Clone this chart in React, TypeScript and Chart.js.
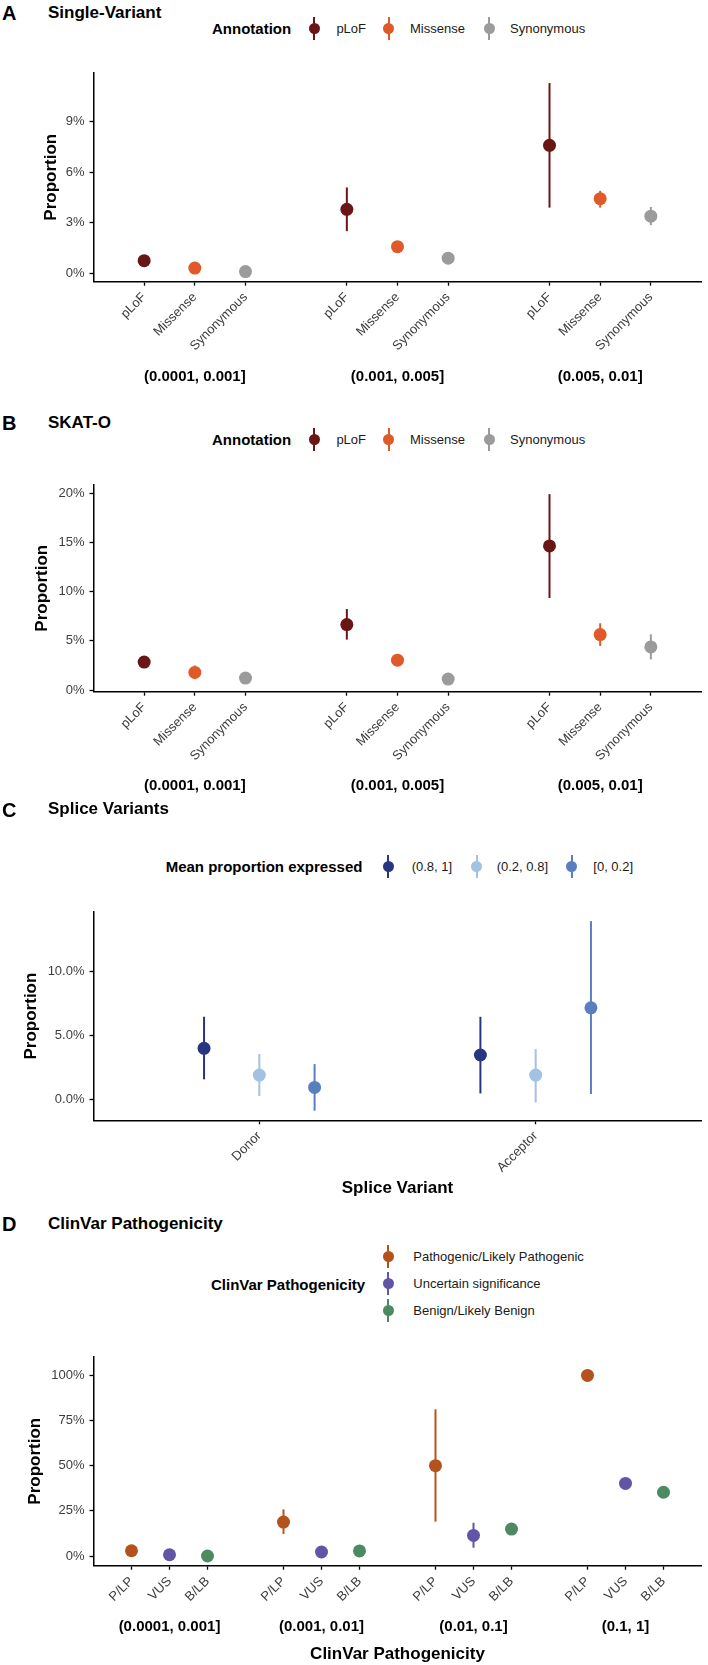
import React, { useEffect, useRef } from "react";
import { Chart, registerables } from "chart.js";

Chart.register(...registerables);

const FONT = '"Liberation Sans", Arial, Helvetica, sans-serif';

// ---------- Panels A & B: annotation classes ----------
const annotations = ["pLoF", "Missense", "Synonymous"];
const annotationColors = ["#6B1616", "#DF5A28", "#9B9B9B"];
const freqBinsAB = ["(0.0001, 0.001]", "(0.001, 0.005]", "(0.005, 0.01]"];

// Panel A: Single-Variant (proportion, %)
const svPLoF = [0.75, 3.8, 7.6];
const svPLoFLow = [0.55, 2.5, 3.9];
const svPLoFHigh = [0.95, 5.1, 11.3];
const svMissense = [0.31, 1.58, 4.43];
const svMissenseLow = [0.24, 1.4, 3.9];
const svMissenseHigh = [0.38, 1.76, 4.9];
const svSynonymous = [0.1, 0.9, 3.39];
const svSynonymousLow = [0.04, 0.75, 2.86];
const svSynonymousHigh = [0.16, 1.05, 3.94];
const svTicks = [0, 3, 6, 9];

// Panel B: SKAT-O (proportion, %)
const skPLoF = [2.84, 6.66, 14.66];
const skPLoFLow = [2.3, 5.13, 9.36];
const skPLoFHigh = [3.4, 8.24, 19.93];
const skMissense = [1.79, 3.04, 5.64];
const skMissenseLow = [1.1, 2.6, 4.49];
const skMissenseHigh = [2.5, 3.5, 6.79];
const skSynonymous = [1.22, 1.11, 4.39];
const skSynonymousLow = [0.9, 0.8, 3.11];
const skSynonymousHigh = [1.55, 1.45, 5.67];
const skTicks = [0, 5, 10, 15, 20];

// ---------- Panel C: splice variants ----------
const spliceTypes = ["Donor", "Acceptor"];
const expressedBins = ["(0.8, 1]", "(0.2, 0.8]", "[0, 0.2]"];
const expressedColors = ["#283583", "#A3C1E2", "#5A7FC0"];
const spHigh = [3.96, 3.44];
const spHighLow = [1.54, 0.44];
const spHighHigh = [6.43, 6.43];
const spMid = [1.875, 1.875];
const spMidLow = [0.23, -0.26];
const spMidHigh = [3.52, 3.9];
const spLow = [0.91, 7.13];
const spLowLow = [-0.91, 0.39];
const spLowHigh = [2.73, 13.9];
const spTicks = [0, 5, 10];

// ---------- Panel D: ClinVar ----------
const clinShort = ["P/LP", "VUS", "B/LB"];
const clinLong = ["Pathogenic/Likely Pathogenic", "Uncertain significance", "Benign/Likely Benign"];
const clinColors = ["#B4521D", "#6354A5", "#4C8B62"];
const freqBinsD = ["(0.0001, 0.001]", "(0.001, 0.01]", "(0.01, 0.1]", "(0.1, 1]"];
const cvPLP = [2.9, 18.8, 50, 100];
const cvPLPLow = [2.0, 12.2, 19, 100];
const cvPLPHigh = [3.8, 25.8, 81.2, 100];
const cvVUS = [0.7, 2.2, 11.4, 40.2];
const cvVUSLow = [0.3, 1.5, 4.6, 39.6];
const cvVUSHigh = [1.2, 3.0, 18.4, 40.8];
const cvBLB = [0.0, 2.8, 14.9, 35.3];
const cvBLBLow = [0.0, 2.0, 12.5, 34.7];
const cvBLBHigh = [0.5, 3.6, 17.5, 35.9];
const cvTicks = [0, 25, 50, 75, 100];

// ---------- helpers ----------
function groupedSeries(cats: string[], colors: string[], vals: number[][], lows: number[][], highs: number[][]) {
  const step = cats.length + 1;
  return cats.map((c, ci) => ({
    label: c,
    backgroundColor: colors[ci],
    data: vals[ci].map((v, g) => ({ x: 1 + step * g + ci, y: v, lo: lows[ci][g], hi: highs[ci][g] })),
  }));
}

function groupedTicks(cats: string[], nGroups: number) {
  const step = cats.length + 1;
  const out: { value: number; label: string }[] = [];
  for (let g = 0; g < nGroups; g++) cats.forEach((c, ci) => out.push({ value: 1 + step * g + ci, label: c }));
  return out;
}

function groupCenters(cats: string[], groups: string[]) {
  const step = cats.length + 1;
  return groups.map((t, g) => ({ text: t, at: 1 + step * g + (cats.length - 1) / 2 }));
}

const extrasPlugin = {
  id: "panelExtras",
  beforeDatasetsDraw(chart: any) {
    const ctx = chart.ctx;
    const xs = chart.scales.x;
    const ys = chart.scales.y;
    chart.data.datasets.forEach((ds: any) => {
      ctx.save();
      ctx.strokeStyle = ds.backgroundColor;
      ctx.lineWidth = 2;
      ds.data.forEach((p: any) => {
        if (p.lo == null) return;
        const px = xs.getPixelForValue(p.x);
        ctx.beginPath();
        ctx.moveTo(px, ys.getPixelForValue(p.lo));
        ctx.lineTo(px, ys.getPixelForValue(p.hi));
        ctx.stroke();
      });
      ctx.restore();
    });
  },
  afterDraw(chart: any, _a: any, opts: any) {
    const ctx = chart.ctx;
    const xs = chart.scales.x;
    const area = chart.chartArea;
    ctx.save();
    ctx.fillStyle = "#000";
    ctx.textAlign = "center";
    ctx.textBaseline = "middle";
    (opts.strips || []).forEach((s: any) => {
      ctx.font = `bold 15px ${FONT}`;
      ctx.fillText(s.text, xs.getPixelForValue(s.at), area.bottom + opts.stripOffset);
    });
    if (opts.xTitle) {
      ctx.font = `bold 17px ${FONT}`;
      ctx.fillText(opts.xTitle, (area.left + area.right) / 2, area.bottom + opts.xTitleOffset);
    }
    ctx.restore();
  },
};

type PanelProps = {
  top: number; // canvas top
  height: number;
  chartTop: number;
  chartBottom: number;
  titleCenter: number; // x of y-axis title center
  datasets: any[];
  xMin: number;
  xMax: number;
  xTicks: { value: number; label: string }[];
  yMin: number;
  yMax: number;
  yTicks: number[];
  yFmt: (v: number) => string;
  strips?: { text: string; at: number }[];
  stripOffset?: number;
  xTitle?: string;
  xTitleOffset?: number;
};

const AXIS_LEFT = 93.5;
const TICK_COLOR = "#3d3d3d";

function Panel(p: PanelProps) {
  const ref = useRef<HTMLCanvasElement | null>(null);
  useEffect(() => {
    if (!ref.current) return;
    const padTop = p.chartTop - p.top;
    const padLeft = p.titleCenter - 10.2;
    const xHeight = p.top + p.height - p.chartBottom;
    const labelMap = new Map(p.xTicks.map((t) => [t.value, t.label]));
    const chart = new Chart(ref.current, {
      type: "scatter",
      data: {
        datasets: p.datasets.map((d) => ({
          ...d,
          pointRadius: 6.5,
          pointHoverRadius: 6.5,
          borderWidth: 0,
          pointBorderWidth: 0,
          showLine: false,
        })),
      },
      plugins: [extrasPlugin],
      options: {
        animation: false,
        responsive: false,
        maintainAspectRatio: false,
        events: [],
        layout: { padding: { top: padTop, left: padLeft, right: 1, bottom: 0 } },
        plugins: {
          legend: { display: false },
          tooltip: { enabled: false },
          panelExtras: {
            strips: p.strips || [],
            stripOffset: p.stripOffset || 0,
            xTitle: p.xTitle,
            xTitleOffset: p.xTitleOffset || 0,
          },
        } as any,
        scales: {
          x: {
            type: "linear",
            min: p.xMin,
            max: p.xMax,
            bounds: "data",
            afterBuildTicks: (s: any) => {
              s.ticks = p.xTicks.map((t) => ({ value: t.value }));
            },
            afterFit: (s: any) => {
              s.height = xHeight;
            },
            ticks: {
              autoSkip: false,
              minRotation: 45,
              maxRotation: 45,
              padding: 4,
              color: TICK_COLOR,
              font: { family: FONT, size: 13 },
              callback: (v: any) => labelMap.get(v) ?? "",
            },
            grid: { drawOnChartArea: false, drawTicks: true, tickLength: 4, tickColor: "#000", tickWidth: 1.3 },
            border: { display: true, color: "#000", width: 1.5 },
          },
          y: {
            type: "linear",
            min: p.yMin,
            max: p.yMax,
            bounds: "data",
            afterBuildTicks: (s: any) => {
              s.ticks = p.yTicks.map((v) => ({ value: v }));
            },
            afterFit: (s: any) => {
              s.width = AXIS_LEFT - padLeft;
            },
            ticks: {
              padding: 5,
              color: TICK_COLOR,
              font: { family: FONT, size: 13 },
              callback: (v: any) => p.yFmt(Number(v)),
            },
            grid: { drawOnChartArea: false, drawTicks: true, tickLength: 4, tickColor: "#000", tickWidth: 1.3 },
            border: { display: true, color: "#000", width: 1.5 },
            title: {
              display: true,
              text: "Proportion",
              color: "#000",
              padding: 0,
              font: { family: FONT, size: 17, weight: "bold" },
            },
          },
        },
      } as any,
    });
    return () => chart.destroy();
  }, []);
  return (
    <canvas
      ref={ref}
      width={708}
      height={p.height}
      style={{ position: "absolute", left: 0, top: p.top, width: 708, height: p.height }}
    />
  );
}

function Txt(props: { x: number; y: number; size: number; bold?: boolean; text: string; color?: string }) {
  return (
    <div
      style={{
        position: "absolute",
        left: props.x,
        top: props.y - props.size / 2,
        height: props.size,
        lineHeight: props.size + "px",
        fontSize: props.size,
        fontWeight: props.bold ? 700 : 400,
        fontFamily: FONT,
        whiteSpace: "nowrap",
        color: props.color || "#000",
      }}
    >
      {props.text}
    </div>
  );
}

function Key(props: { x: number; y: number; color: string }) {
  return (
    <>
      <div
        style={{ position: "absolute", left: props.x - 1, top: props.y - 11.5, width: 2, height: 23, background: props.color }}
      />
      <div
        style={{
          position: "absolute",
          left: props.x - 5.5,
          top: props.y - 5.5,
          width: 11,
          height: 11,
          borderRadius: "50%",
          background: props.color,
        }}
      />
    </>
  );
}

function PanelHeader(props: { letter: string; title: string; y: number }) {
  return (
    <>
      <Txt x={2} y={props.y + 1} size={20} bold text={props.letter} />
      <Txt x={48} y={props.y} size={17} bold text={props.title} />
    </>
  );
}

export default function App() {
  const seriesA = groupedSeries(
    annotations,
    annotationColors,
    [svPLoF, svMissense, svSynonymous],
    [svPLoFLow, svMissenseLow, svSynonymousLow],
    [svPLoFHigh, svMissenseHigh, svSynonymousHigh]
  );
  const seriesB = groupedSeries(
    annotations,
    annotationColors,
    [skPLoF, skMissense, skSynonymous],
    [skPLoFLow, skMissenseLow, skSynonymousLow],
    [skPLoFHigh, skMissenseHigh, skSynonymousHigh]
  );
  const spVals = [spHigh, spMid, spLow];
  const spLows = [spHighLow, spMidLow, spLowLow];
  const spHighs = [spHighHigh, spMidHigh, spLowHigh];
  const seriesC = expressedBins.map((b, si) => ({
    label: b,
    backgroundColor: expressedColors[si],
    data: spliceTypes.map((_t, gi) => ({
      x: gi + 1 + (si - 1) * 0.2,
      y: spVals[si][gi],
      lo: spLows[si][gi],
      hi: spHighs[si][gi],
    })),
  }));
  const seriesD = groupedSeries(
    clinShort,
    clinColors,
    [cvPLP, cvVUS, cvBLB],
    [cvPLPLow, cvVUSLow, cvBLBLow],
    [cvPLPHigh, cvVUSHigh, cvBLBHigh]
  );

  const pct = (v: number) => `${v}%`;
  const pct1 = (v: number) => `${v.toFixed(1)}%`;

  const abLegendKeys = [314, 388.8, 489];
  const abLegendText = [336.4, 410, 510];
  const cLegendKeys = [388.3, 476.7, 571.7];
  const cLegendText = [411.7, 496.7, 593.3];
  const dLegendRows = [1256.7, 1283.3, 1310];

  return (
    <div style={{ position: "absolute", left: 0, top: 0, width: 708, height: 1665, background: "#fff", overflow: "hidden" }}>
      {/* Panel A */}
      <PanelHeader letter="A" title="Single-Variant" y={12} />
      <Txt x={212} y={28.3} size={15} bold text="Annotation" />
      {annotations.map((a, i) => (
        <React.Fragment key={"la" + a}>
          <Key x={abLegendKeys[i]} y={28.3} color={annotationColors[i]} />
          <Txt x={abLegendText[i]} y={28.3} size={13} text={a} color="#1a1a1a" />
        </React.Fragment>
      ))}
      <Panel
        top={60}
        height={330}
        chartTop={72.7}
        chartBottom={281.7}
        titleCenter={51}
        datasets={seriesA}
        xMin={0}
        xMax={12}
        xTicks={groupedTicks(annotations, freqBinsAB.length)}
        yMin={-0.5}
        yMax={11.91}
        yTicks={svTicks}
        yFmt={pct}
        strips={groupCenters(annotations, freqBinsAB)}
        stripOffset={95}
      />

      {/* Panel B */}
      <PanelHeader letter="B" title="SKAT-O" y={422} />
      <Txt x={212} y={439} size={15} bold text="Annotation" />
      {annotations.map((a, i) => (
        <React.Fragment key={"lb" + a}>
          <Key x={abLegendKeys[i]} y={439} color={annotationColors[i]} />
          <Txt x={abLegendText[i]} y={439} size={13} text={a} color="#1a1a1a" />
        </React.Fragment>
      ))}
      <Panel
        top={472}
        height={328}
        chartTop={484}
        chartBottom={691.7}
        titleCenter={42}
        datasets={seriesB}
        xMin={0}
        xMax={12}
        xTicks={groupedTicks(annotations, freqBinsAB.length)}
        yMin={-0.17}
        yMax={20.88}
        yTicks={skTicks}
        yFmt={pct}
        strips={groupCenters(annotations, freqBinsAB)}
        stripOffset={94.5}
      />

      {/* Panel C */}
      <PanelHeader letter="C" title="Splice Variants" y={808.7} />
      <Txt x={165.7} y={866.7} size={15} bold text="Mean proportion expressed" />
      {expressedBins.map((b, i) => (
        <React.Fragment key={"lc" + b}>
          <Key x={cLegendKeys[i]} y={866.7} color={expressedColors[i]} />
          <Txt x={cLegendText[i]} y={866.7} size={13} text={b} color="#1a1a1a" />
        </React.Fragment>
      ))}
      <Panel
        top={899}
        height={301}
        chartTop={911.7}
        chartBottom={1120.3}
        titleCenter={31.6}
        datasets={seriesC}
        xMin={0.4}
        xMax={2.6}
        xTicks={spliceTypes.map((t, i) => ({ value: i + 1, label: t }))}
        yMin={-1.66}
        yMax={14.63}
        yTicks={spTicks}
        yFmt={pct1}
        xTitle="Splice Variant"
        xTitleOffset={68}
      />

      {/* Panel D */}
      <PanelHeader letter="D" title="ClinVar Pathogenicity" y={1223.3} />
      <Txt x={211} y={1284.3} size={15} bold text="ClinVar Pathogenicity" />
      {clinLong.map((c, i) => (
        <React.Fragment key={"ld" + c}>
          <Key x={388.3} y={dLegendRows[i]} color={clinColors[i]} />
          <Txt x={413.3} y={dLegendRows[i]} size={13} text={c} color="#1a1a1a" />
        </React.Fragment>
      ))}
      <Panel
        top={1344}
        height={321}
        chartTop={1356.7}
        chartBottom={1565.7}
        titleCenter={35}
        datasets={seriesD}
        xMin={0}
        xMax={16}
        xTicks={groupedTicks(clinShort, freqBinsD.length)}
        yMin={-5.37}
        yMax={110.3}
        yTicks={cvTicks}
        yFmt={pct}
        strips={groupCenters(clinShort, freqBinsD)}
        stripOffset={61}
        xTitle="ClinVar Pathogenicity"
        xTitleOffset={88.6}
      />
    </div>
  );
}
